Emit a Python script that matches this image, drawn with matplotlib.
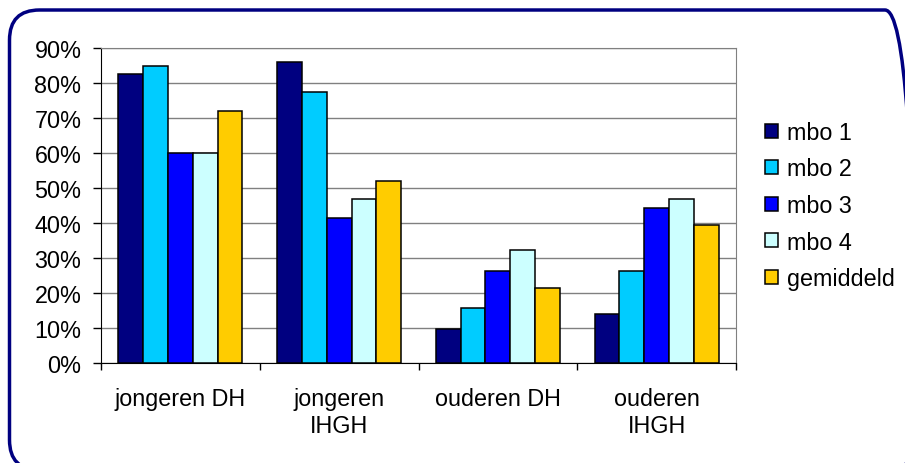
import numpy as np
import matplotlib.pyplot as plt
from matplotlib.patches import FancyBboxPatch
from matplotlib.transforms import IdentityTransform

plt.rcParams['font.family'] = ['Liberation Sans', 'DejaVu Sans']
plt.rcParams['font.size'] = 16.8

categories = ['jongeren DH', 'jongeren\nIHGH', 'ouderen DH', 'ouderen\nIHGH']
series = ['mbo 1', 'mbo 2', 'mbo 3', 'mbo 4', 'gemiddeld']
mbo1 = [82.5, 85.9, 9.6, 14.1]
mbo2 = [84.8, 77.3, 15.6, 26.2]
mbo3 = [60.0, 41.4, 26.2, 44.4]
mbo4 = [60.0, 46.9, 32.3, 46.9]
gemiddeld = [71.9, 52.0, 21.3, 39.3]
colors = ['#000080', '#00CCFF', '#0000FF', '#CCFFFF', '#FFCC00']

values = [mbo1, mbo2, mbo3, mbo4, gemiddeld]

fig = plt.figure(figsize=(9.05, 4.64), dpi=100)
ax = fig.add_axes([101 / 905, 1 - 364 / 464, 635 / 905, 315 / 464])

x = np.arange(len(categories))
w = 0.156
for i, (vals, name, col) in enumerate(zip(values, series, colors)):
    ax.bar(x + (i - 2) * w, vals, width=w, color=col, edgecolor='black',
           linewidth=1.1, label=name, zorder=3)

ax.set_xlim(-0.5, 3.5)
ax.set_ylim(0, 90)
ax.set_yticks(np.arange(0, 91, 10))
ax.set_yticklabels([f'{v}%' for v in range(0, 91, 10)])
ax.yaxis.grid(True, color='#808080', linewidth=1.0, zorder=0)

# category boundaries as major ticks, labels on minor ticks
ax.set_xticks(np.arange(-0.5, 3.6, 1))
ax.set_xticklabels([])
ax.set_xticks(x, minor=True)
ax.set_xticklabels(categories, minor=True, linespacing=1.25)
ax.tick_params(axis='x', which='major', direction='out', length=5, width=1, color='black')
ax.tick_params(axis='x', which='minor', length=0, pad=17)
ax.tick_params(axis='y', direction='out', length=5.5, width=1, pad=8.6, color='black')

ax.spines['left'].set_color('black')
ax.spines['bottom'].set_color('black')
ax.spines['top'].set_color('#808080')
ax.spines['right'].set_color('#808080')

ax.legend(loc='center left', bbox_to_anchor=(765 / 905, 1 - 206.5 / 464),
          bbox_transform=fig.transFigure, frameon=False, borderpad=0,
          borderaxespad=0, handlelength=0.56, handleheight=0.56,
          handletextpad=0.38, labelspacing=0.58, fontsize=16.8)

# rounded outer frame, partly running off the right and bottom edges
frame = FancyBboxPatch((9.5, -7), 905.5, 460, boxstyle='round,pad=0,rounding_size=30',
                       transform=IdentityTransform(), facecolor='none',
                       edgecolor='#000080', linewidth=2.5, clip_on=False)
fig.patches.append(frame)

fig.savefig('out.png', dpi=100)
